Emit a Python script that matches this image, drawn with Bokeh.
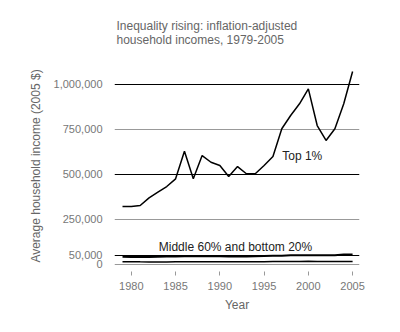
from bokeh.plotting import figure
from bokeh.models import Range1d, FixedTicker, NumeralTickFormatter, Grid, Label, ColumnDataSource
from bokeh.embed import file_html
from bokeh.resources import INLINE

years = list(range(1979, 2006))
top1 = [322000, 322000, 328000, 370000, 402000, 433000, 476000, 629000, 476000,
        605000, 568000, 550000, 489000, 544000, 504000, 504000, 550000, 600000,
        754000, 828000, 893000, 976000, 772000, 689000, 754000, 893000, 1072000]
middle60 = [43000, 42000, 42000, 42000, 43000, 44000, 45000, 46000, 46000,
            46000, 47000, 46000, 45000, 45000, 45000, 46000, 47000, 48000,
            49000, 51000, 52000, 52000, 52000, 51000, 52000, 55000, 56000]
bottom20 = [15300, 15100, 14600, 14200, 14200, 14500, 14700, 14900, 15000,
            15100, 15300, 15200, 15000, 15000, 15100, 15400, 15800, 16000,
            16300, 16800, 17200, 17600, 17000, 16600, 16500, 16600, 16700]

x_ticks = [1980, 1985, 1990, 1995, 2000, 2005]
y_ticks = [0, 50000, 250000, 500000, 750000, 1000000]
dark_grid = [50000, 500000, 1000000]
light_grid = [0, 250000, 750000]

title_lines = ["Inequality rising: inflation-adjusted", "household incomes, 1979-2005"]

FONT = "Liberation Sans"
GRAY = "#777777"
TGRAY = "#666666"

p = figure(width=400, height=332, output_backend="svg", toolbar_location=None,
           x_range=Range1d(1978.096, 2005.78), y_range=Range1d(-38889, 1133333),
           min_border_left=114, min_border_right=41, min_border_top=60,
           min_border_bottom=61)
p.outline_line_color = None
p.background_fill_color = "white"
p.border_fill_color = "white"

p.title.text = "\n".join(title_lines)
p.title.align = "left"
p.title.offset = 2
p.title.text_font = FONT
p.title.text_font_size = "12px"
p.title.text_font_style = "normal"
p.title.text_color = TGRAY
p.title.text_line_height = 1.0
p.title.standoff = 28

p.xgrid.visible = False
p.ygrid.visible = False
p.add_layout(Grid(dimension=1, ticker=FixedTicker(ticks=light_grid),
                  grid_line_color="#999999", grid_line_width=1))
p.add_layout(Grid(dimension=1, ticker=FixedTicker(ticks=dark_grid),
                  grid_line_color="#000000", grid_line_width=1))

src = ColumnDataSource(dict(year=years, top1=top1, middle60=middle60, bottom20=bottom20))
p.line("year", "top1", source=src, line_color="black", line_width=1.5)
p.line("year", "middle60", source=src, line_color="black", line_width=2)
p.line("year", "bottom20", source=src, line_color="black", line_width=1.5)

xa = p.xaxis[0]
xa.ticker = FixedTicker(ticks=x_ticks)
xa.axis_line_color = None
xa.major_tick_line_color = "#999999"
xa.major_tick_in = 0
xa.major_tick_out = 4
xa.minor_tick_line_color = None
xa.major_label_text_font = FONT
xa.major_label_text_font_size = "11px"
xa.major_label_text_color = GRAY
xa.major_label_standoff = 6
xa.axis_label = "Year"
xa.axis_label_text_font = FONT
xa.axis_label_text_font_size = "12px"
xa.axis_label_text_font_style = "normal"
xa.axis_label_text_color = TGRAY
xa.axis_label_standoff = 5

ya = p.yaxis[0]
ya.ticker = FixedTicker(ticks=y_ticks)
ya.formatter = NumeralTickFormatter(format="0,0")
ya.axis_line_color = None
ya.major_tick_line_color = None
ya.minor_tick_line_color = None
ya.major_label_text_font = FONT
ya.major_label_text_font_size = "11px"
ya.major_label_text_color = GRAY
ya.major_label_standoff = 6
ya.axis_label = "Average household income (2005 $)"
ya.axis_label_text_font = FONT
ya.axis_label_text_font_size = "12px"
ya.axis_label_text_font_style = "normal"
ya.axis_label_text_color = TGRAY
ya.axis_label_standoff = 8

p.add_layout(Label(x=1997.05, y=600000, text="Top 1%", text_font=FONT,
                   text_font_size="12px", text_color="#222222", text_baseline="middle"))
p.add_layout(Label(x=1983.1, y=96100, text="Middle 60% and bottom 20%", text_font=FONT,
                   text_font_size="12px", text_color="#222222", text_baseline="middle"))

open("out.html", "w").write(file_html(p, INLINE))
